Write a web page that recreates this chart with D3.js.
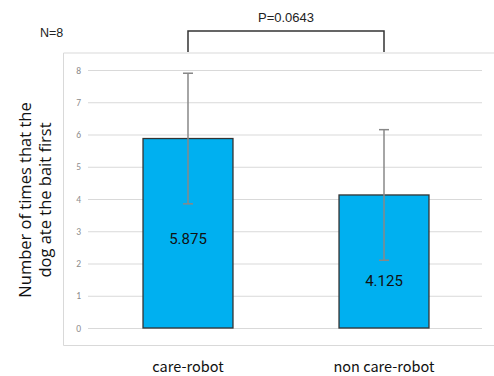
<!DOCTYPE html>
<html><head><meta charset="utf-8">
<script src="https://cdn.jsdelivr.net/npm/d3@7"></script>
<style>body{margin:0;background:#fff}svg{display:block}</style>
</head><body>
<script>
const categories = ["care-robot", "non care-robot"];
const means = [5.875, 4.125];
const errUpper = [7.9, 6.15];
const errLower = [3.85, 2.1];
const valueLabels = ["5.875", "4.125"];
const yTicks = [0,1,2,3,4,5,6,7,8];
const pLabel = "P=0.0643";
const nLabel = "N=8";

const W = 494, H = 376;
const svg = d3.select("body").append("svg").attr("width", W).attr("height", H);

const y = d3.scaleLinear().domain([0, 8]).range([328, 70]);
const x = d3.scaleBand().domain(categories).range([89, 483]).paddingInner(0.541).paddingOuter(0.2756);

// frame
svg.append("path").attr("d", "M494,53 H63.5 V345.5 H494")
  .attr("fill", "none").attr("stroke", "#d9d9d9").attr("stroke-width", 1);

// grid + tick labels
const yAxis = d3.axisLeft(y).tickValues(yTicks).tickSize(-394).tickPadding(7);
const gA = svg.append("g").attr("transform", "translate(88,0)").call(yAxis);
gA.select(".domain").remove();
gA.selectAll(".tick line").attr("stroke", "#d9d9d9").attr("stroke-width", 1);
gA.selectAll(".tick text").attr("fill", "#8c8c8c").attr("font-size", 9.5).attr("font-family", "Calibri, Carlito, 'Liberation Sans', sans-serif");

// bars
svg.selectAll("rect.bar").data(categories).join("rect")
  .attr("x", d => x(d)).attr("width", x.bandwidth())
  .attr("y", (d,i) => y(means[i])).attr("height", (d,i) => y(0) - y(means[i]))
  .attr("fill", "#00b0f0").attr("stroke", "#333").attr("stroke-width", 1.3);

// error bars
const eg = svg.append("g").attr("stroke", "#888").attr("stroke-width", 1.5);
categories.forEach((c,i) => {
  const cx = x(c) + x.bandwidth()/2;
  eg.append("line").attr("x1", cx).attr("x2", cx).attr("y1", y(errUpper[i])).attr("y2", y(errLower[i]));
  eg.append("line").attr("x1", cx-5).attr("x2", cx+5).attr("y1", y(errUpper[i])).attr("y2", y(errUpper[i]));
  eg.append("line").attr("x1", cx-5).attr("x2", cx+5).attr("y1", y(errLower[i])).attr("y2", y(errLower[i]));
});

// value labels
svg.selectAll("text.val").data(categories).join("text")
  .attr("x", d => x(d) + x.bandwidth()/2)
  .attr("y", (d,i) => i === 0 ? 244 : 286)
  .attr("text-anchor", "middle").attr("font-size", 15).attr("fill", "#111")
  .attr("font-family", "Roboto, 'Liberation Sans', sans-serif")
  .text((d,i) => valueLabels[i]);

// x labels
svg.selectAll("text.cat").data(categories).join("text")
  .attr("x", d => x(d) + x.bandwidth()/2).attr("y", 372)
  .attr("text-anchor", "middle").attr("font-size", 14.5).attr("fill", "#111")
  .attr("font-family", "'Noto Sans CJK JP', 'Noto Sans', sans-serif")
  .text(d => d);

// y title
const yt = svg.append("text").attr("transform", "translate(0,200) rotate(-90)")
  .attr("text-anchor", "middle").attr("font-size", 16.5).attr("fill", "#111")
  .attr("font-family", "'Open Sans', 'Noto Sans', sans-serif");
yt.append("tspan").attr("x", 0).attr("y", 31).text("Number of times that the");
yt.append("tspan").attr("x", 0).attr("y", 51).text("dog ate the bait first");

// bracket
const c0 = x(categories[0]) + x.bandwidth()/2, c1 = x(categories[1]) + x.bandwidth()/2;
svg.append("path").attr("d", `M${c0},52 V31 H${c1} V52`).attr("fill", "none")
  .attr("stroke", "#333").attr("stroke-width", 1.5);
svg.append("text").attr("x", (c0+c1)/2).attr("y", 22).attr("text-anchor", "middle")
  .attr("font-size", 13).attr("fill", "#222").attr("font-family", "'Liberation Sans', Arial, sans-serif").text(pLabel);
svg.append("text").attr("x", 40).attr("y", 37).attr("font-size", 12.5).attr("fill", "#222")
  .attr("font-family", "'Liberation Sans', Arial, sans-serif").text(nLabel);
</script>
</body></html>
